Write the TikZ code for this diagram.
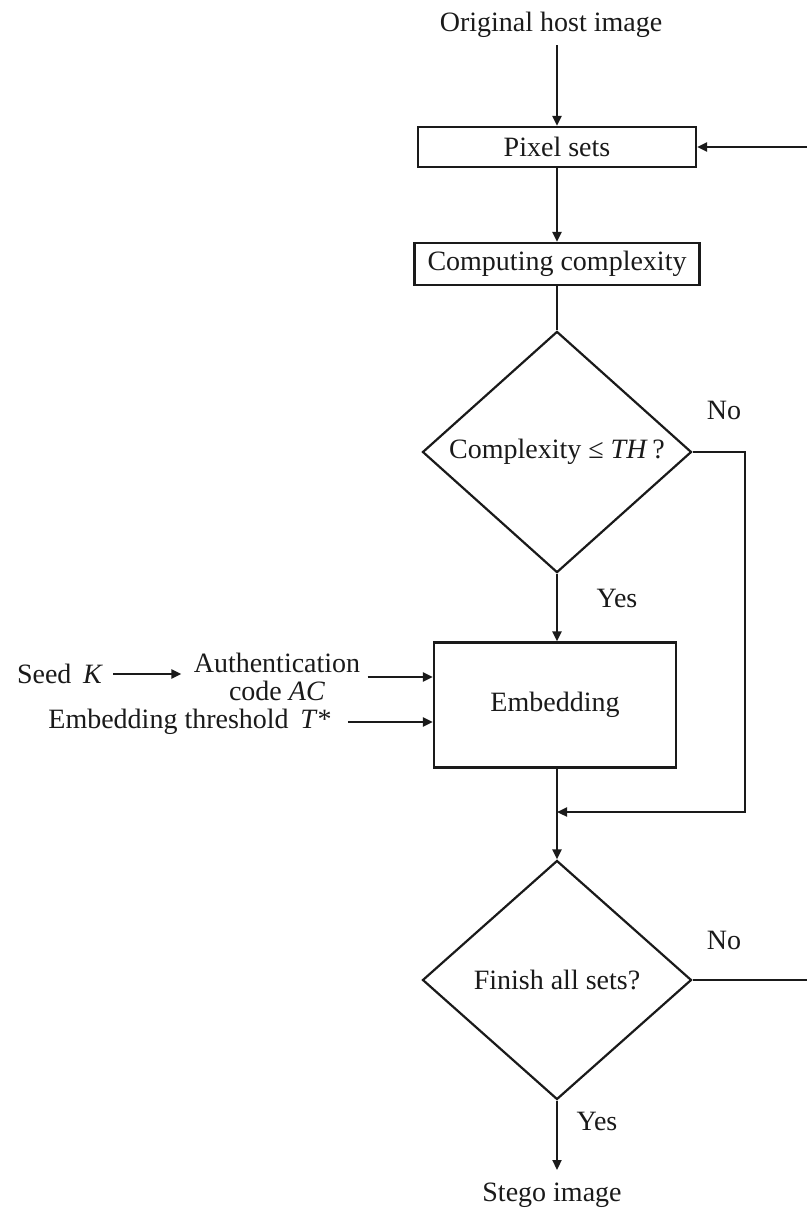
\documentclass[tikz,border=0pt]{standalone}
\usepackage{fontspec}
\setmainfont{Liberation Serif}
\usepackage{tikz}
\usetikzlibrary{arrows.meta, positioning, shapes.geometric}
\definecolor{flowink}{HTML}{1A1A1A}

\tikzset{
  flowtext/.style={font=\fontsize{14}{14}\selectfont, inner sep=0pt, text=flowink},
  procbox/.style={draw=flowink, line width=1.1pt, inner sep=0pt, flowtext},
  decision/.style={diamond, draw=flowink, line width=1.1pt, inner sep=0pt,
    minimum width=134.5pt, minimum height=119.5pt, flowtext},
  flow/.style={draw=flowink, line width=1.1pt, -{Triangle[length=5pt, width=4.5pt]}},
  plainline/.style={draw=flowink, line width=1.1pt}
}

\begin{document}
\begin{tikzpicture}[x=0.5pt, y=-0.5pt]
    \useasboundingbox (0,0) rectangle (807,1212);
    \clip (0,0) rectangle (807,1212);
    % main column
    \node[flowtext] (host) at (551,25) {Original host image};
    \node[procbox, minimum width=139pt, minimum height=20pt] (pix) at (557,147) {Pixel sets};
    \node[procbox, minimum width=142.5pt, minimum height=21pt] (cmplx) at (557,264) {Computing complexity};
    \node[decision] (thr) at (557,452) {Complexity ≤ \textit{TH}\,?};
    \node[procbox, minimum width=121pt, minimum height=62.5pt] (embed) at (555,705) {Embedding};
    \node[decision] (finish) at (557,980) {Finish all sets?};
    \node[flowtext] (stego) at (552,1195) {Stego image};
    % side inputs
    \node[flowtext] (seed) at (60,674) {Seed \,\textit{K}};
    \node[flowtext, align=center] (auth) at (277,677) {Authentication\\code \textit{AC}};
    \node[flowtext] (tstar) at (190,722) {Embedding threshold \,\textit{T}*};
    % labels
    \node[flowtext] (no1) at (724,410) {No};
    \node[flowtext] (yes1) at (617,598) {Yes};
    \node[flowtext] (no2) at (724,940) {No};
    \node[flowtext] (yes2) at (597,1121) {Yes};
    \coordinate (hostend) at (557,45);
    \coordinate (merge) at (557,812);
    \coordinate (stegoend) at (557,1170);

    \draw[flow] (hostend) -- (pix.north);
    \draw[flow] (pix.south) -- (cmplx.north);
    \draw[plainline] (cmplx.south) -- (thr.north);
    \draw[flow] (thr.south) -- (embed.north -| thr.south);
    \draw[flow] ([xshift=5pt]seed.east) -- ([xshift=-6pt]auth.west |- seed.east);
    \draw[flow] ([xshift=3.5pt]auth.east |- 0,677) -- (embed.west |- 0,677);
    \draw[flow] ([xshift=8pt]tstar.east) -- (embed.west |- tstar.east);
    \draw[flow] (thr.east) -- (745,452) |- (merge);
    \draw[flow] (embed.south -| finish.north) -- (finish.north);
    \draw[flow] (finish.east) -- (815,980) |- (pix.east);
    \draw[flow] (finish.south) -- (stegoend);
\end{tikzpicture}
\end{document}
